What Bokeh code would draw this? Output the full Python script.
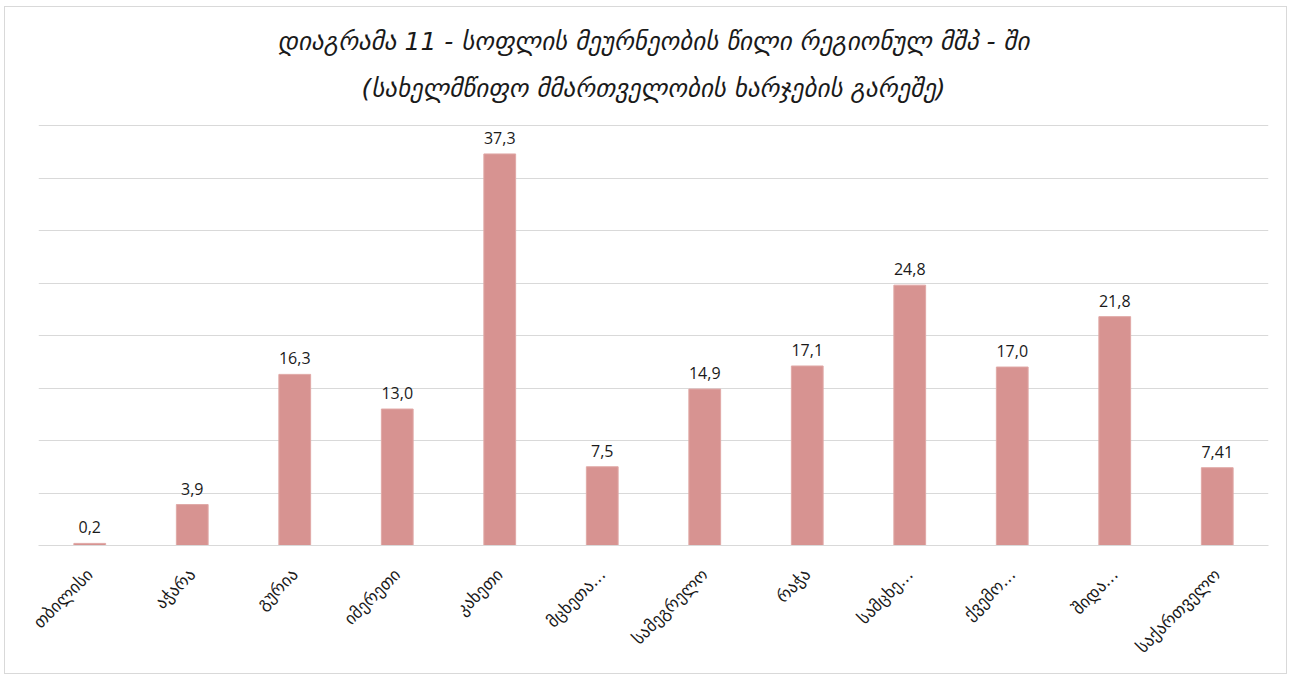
from bokeh.plotting import figure
from bokeh.models import ColumnDataSource, Title, LabelSet, Range1d, FixedTicker
from bokeh.core.properties import value
from bokeh.embed import file_html
from bokeh.resources import INLINE
from math import pi

regions = ["თბილისი", "აჭარა", "გურია", "იმერეთი", "კახეთი", "მცხეთა...",
           "სამეგრელო", "რაჭა", "სამცხე...", "ქვემო...", "შიდა...", "საქართველო"]
values = [0.2, 3.9, 16.3, 13.0, 37.3, 7.5, 14.9, 17.1, 24.8, 17.0, 21.8, 7.41]
value_labels = ["0,2", "3,9", "16,3", "13,0", "37,3", "7,5", "14,9", "17,1", "24,8", "17,0", "21,8", "7,41"]
grid_ticks = [0, 5, 10, 15, 20, 25, 30, 35, 40]
title_lines = ["დიაგრამა 11 - სოფლის მეურნეობის წილი რეგიონულ მშპ - ში",
               "(სახელმწიფო მმართველობის ხარჯების გარეშე)"]

src = ColumnDataSource(dict(x=regions, top=values, lab=value_labels))

W, H = 1283, 668
p = figure(x_range=regions, y_range=Range1d(0, 40.2), width=W, height=H,
           output_backend="svg", toolbar_location=None,
           min_border_left=33, min_border_right=20,
           min_border_top=116, min_border_bottom=H - 538)
p.styles = {"border": "1px solid #d9d9d9", "margin-left": "4px", "margin-top": "6px"}

p.vbar(x="x", top="top", width=0.31, source=src, fill_color="#d79391",
       line_color="#e0a8a6", line_width=1)

p.add_layout(LabelSet(x="x", y="top", text="lab", source=src, y_offset=10,
                      text_align="center", text_baseline="bottom",
                      text_font=value("Open Sans"), text_font_size=value("16px"),
                      text_color="#1a1a1a"))

for i, line in enumerate(reversed(title_lines)):
    t = Title(text=line, align="center", text_font="DejaVu Sans",
              text_font_style="italic", text_font_size="25px", text_line_height=1.0,
              text_color="#1a1a1a", standoff=(42 if i == 0 else -10))
    p.add_layout(t, "above")

p.outline_line_color = None
p.background_fill_color = "white"
p.border_fill_color = "white"

p.yaxis.visible = False
p.yaxis.ticker = FixedTicker(ticks=grid_ticks)
p.ygrid.ticker = FixedTicker(ticks=grid_ticks)
p.ygrid.grid_line_color = "#d9d9d9"
p.ygrid.grid_line_width = 1
p.xgrid.grid_line_color = None

p.xaxis.axis_line_color = "#d9d9d9"
p.xaxis.major_tick_line_color = None
p.xaxis.minor_tick_line_color = None
p.xaxis.major_label_orientation = pi / 4
p.xaxis.major_label_text_font = "DejaVu Sans"
p.xaxis.major_label_text_font_size = "17px"
p.xaxis.major_label_text_color = "#1a1a1a"
p.xaxis.major_label_standoff = 20
p.x_range.range_padding = 0

open("out.html", "w").write(file_html(p, INLINE))
